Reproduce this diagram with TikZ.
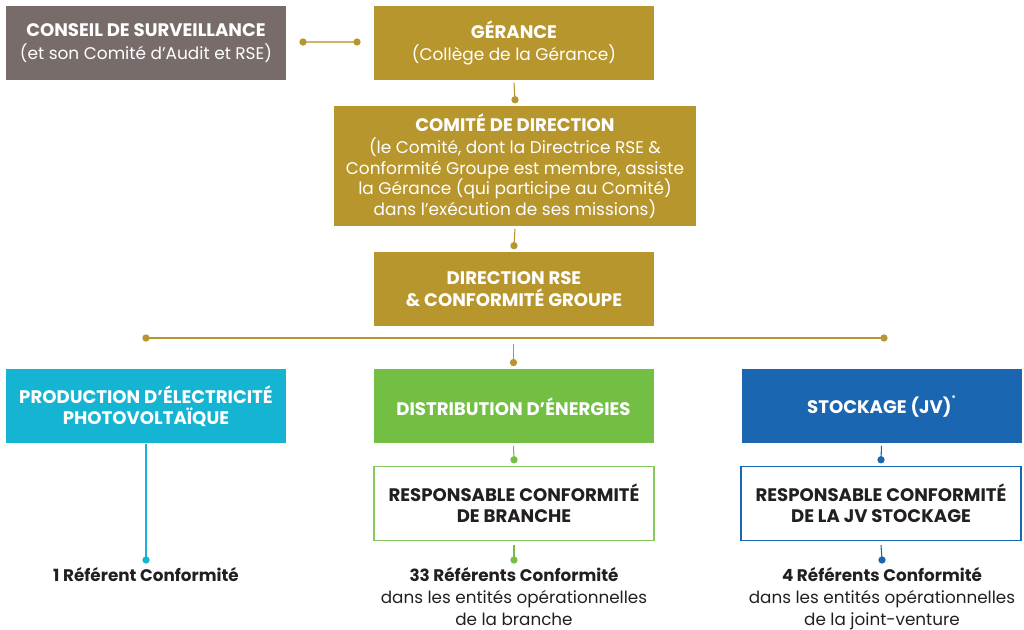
\documentclass[tikz,border=0pt]{standalone}
\usepackage{fontspec}
\setmainfont{Poppins}
\usetikzlibrary{positioning}

\definecolor{gold}{HTML}{B8962E}
\definecolor{taupe}{HTML}{786C6B}
\definecolor{cyanb}{HTML}{14B4D2}
\definecolor{greenb}{HTML}{72BF44}
\definecolor{blueb}{HTML}{1A66B1}
\definecolor{inkb}{HTML}{231F20}

\newcommand\headfont{\fontsize{13.6}{16}\selectfont\bfseries}
\newcommand\bodyfont{\fontsize{12.7}{15.4}\selectfont}

\begin{document}
\begin{tikzpicture}[
    x=0.75pt, y=-0.75pt,
    box/.style={rectangle, minimum width=210pt, minimum height=55.5pt,
                inner sep=0pt, align=center, text=white, font=\headfont},
    respbox/.style={box, fill=white, draw=#1, line width=1.1pt, text=inkb},
    reftext/.style={align=center, text=inkb, inner sep=0pt,
                    font=\fontsize{12.6}{16.4}\selectfont},
    link/.style={draw=#1, line width=0.8pt},
    dot/.style={circle, fill=#1, inner sep=0pt, minimum size=5.5pt}
]
    \useasboundingbox (0,0) rectangle (1024,630);

    % top of the chart
    \node[box, fill=taupe, font=\fontsize{12.7}{17}\selectfont] (conseil) at (146,43)
        {{\headfont CONSEIL DE SURVEILLANCE}\\(et son Comité d’Audit et RSE)};
    \node[box, fill=gold, font=\fontsize{12.7}{17}\selectfont] (gerance) at (514,43)
        {{\headfont GÉRANCE}\\(Collège de la Gérance)};
    \node[box, fill=gold, minimum width=271.5pt, minimum height=90pt,
          font=\bodyfont] (comite) at (515,166)
        {{\headfont COMITÉ DE DIRECTION}\\[1.5pt](le Comité, dont la Directrice RSE \&\\
         Conformité Groupe est membre, assiste\\la Gérance (qui participe au Comité)\\
         dans l’exécution de ses missions)};
    \node[box, fill=gold] (direction) at (514,289)
        {DIRECTION RSE\\\& CONFORMITÉ GROUPE};

    % branches
    \node[box, fill=cyanb] (prod) at (146,406.5)
        {PRODUCTION D’ÉLECTRICITÉ\\PHOTOVOLTAÏQUE};
    \node[box, fill=greenb] (distrib) at (513.5,406.5)
        {DISTRIBUTION D’ÉNERGIES};
    \node[box, fill=blueb] (stock) at (881.5,406.5)
        {STOCKAGE (JV)\raisebox{1.2ex}{\fontsize{6}{6}\selectfont*}};

    \node[respbox=greenb!85] (respdist) at (514,503.5)
        {RESPONSABLE CONFORMITÉ\\DE BRANCHE};
    \node[respbox=blueb] (respstock) at (881,503.5)
        {RESPONSABLE CONFORMITÉ\\DE LA JV STOCKAGE};

    \node[reftext, anchor=north] (refprod) at (146,567)
        {\textbf{1 Référent Conformité}};
    \node[reftext, anchor=north] (refdist) at (514,567)
        {\textbf{33 Référents Conformité}\\dans les entités opérationnelles\\de la branche};
    \node[reftext, anchor=north] (refstock) at (882,567)
        {\textbf{4 Référents Conformité}\\dans les entités opérationnelles\\de la joint-venture};

    % connectors
    \coordinate (cl) at (303,42);
    \coordinate (cr) at (357,42);
    \coordinate (barl) at (146,338);
    \coordinate (barr) at (884,338);
    \coordinate (dprod) at (146,560);
    \coordinate (ddist) at (514,560);
    \coordinate (dstock) at (882,560);

    \draw[link=gold!70] (cl) -- (cr);
    \node[dot=gold] at (cl) {};
    \node[dot=gold] at (cr) {};

    \draw[link=gold] ([yshift=-2pt]gerance.south) -- ([yshift=4.5pt]comite.north) node[dot=gold] {};
    \draw[link=gold] ([yshift=-2pt]comite.south) -- ([yshift=4.5pt]direction.north) node[dot=gold] {};

    \draw[link=gold] (barl) -- (barr);
    \node[dot=gold] at (barl) {};
    \node[dot=gold] at (barr) {};
    \draw[link=gold] ([yshift=-4.5pt]barl -| distrib) -- ([yshift=5pt]distrib.north) node[dot=gold] {};

    \draw[link=cyanb] (prod.south) -- (dprod) node[dot=cyanb] {};
    \draw[link=greenb] ([yshift=-1.5pt]distrib.south) -- ([yshift=4.5pt]respdist.north) node[dot=greenb] {};
    \draw[link=greenb] ([yshift=-3pt]respdist.south) -- (ddist) node[dot=greenb] {};
    \draw[link=blueb] ([yshift=-1.5pt]stock.south) -- ([yshift=4.5pt]respstock.north) node[dot=blueb] {};
    \draw[link=blueb] ([yshift=-3pt]respstock.south) -- (dstock) node[dot=blueb] {};
\end{tikzpicture}
\end{document}
